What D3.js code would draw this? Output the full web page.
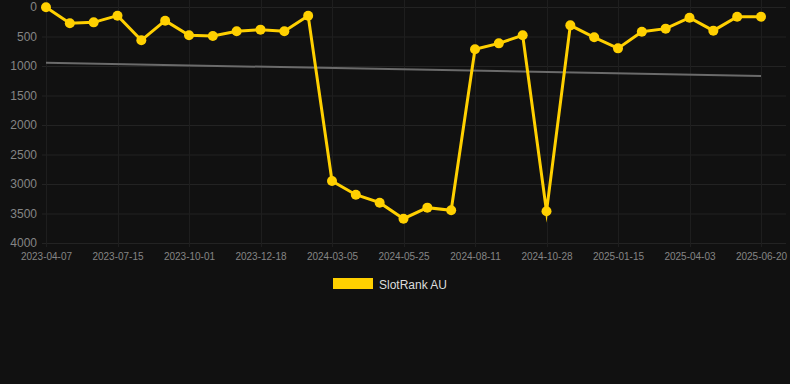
<!DOCTYPE html>
<html><head><meta charset="utf-8">
<script src="https://cdn.jsdelivr.net/npm/d3@7/dist/d3.min.js"></script>
<style>html,body{margin:0;padding:0;background:#111111;}svg{display:block;}</style>
</head><body>
<svg id="c" width="790" height="384"></svg>
<script>
const dates = ["2023-04-07","2023-05-10","2023-06-12","2023-07-15","2023-08-10","2023-09-05",
"2023-10-01","2023-10-27","2023-11-22","2023-12-18","2024-01-13","2024-02-08",
"2024-03-05","2024-04-01","2024-04-28","2024-05-25","2024-06-20","2024-07-16",
"2024-08-11","2024-09-06","2024-10-02","2024-10-28","2024-11-23","2024-12-19",
"2025-01-15","2025-02-10","2025-03-08","2025-04-03","2025-04-29","2025-05-25","2025-06-20"];
const rankAU = [5,276,260,147,565,232,480,492,412,384,412,147,
2949,3181,3317,3588,3401,3446,717,616,480,3463,311,514,
701,418,367,181,401,164,164];
const trend = [945,1170];
const yTicks = [0,500,1000,1500,2000,2500,3000,3500,4000];
const seriesName = "SlotRank AU";

(function(){
const svg = d3.select("#c");
const pl = 46, pr = 761, pt = 7, pb = 243;
const x = d3.scalePoint().domain(dates).range([pl, pr]);
const y = d3.scaleLinear().domain([0,4000]).range([pt, pb]);
const font = "Liberation Sans, Arial, Helvetica, sans-serif";

// grid
const grid = svg.append("g");
grid.selectAll("line.h").data(yTicks).enter().append("line")
  .attr("x1", 42).attr("x2", 786).attr("y1", d=>y(d)+0.5).attr("y2", d=>y(d)+0.5)
  .attr("stroke", "#232323").attr("stroke-width", 1);
const xTickDates = dates.filter((d,i)=>i%3===0);
grid.selectAll("line.v").data(xTickDates).enter().append("line")
  .attr("x1", d=>Math.round(x(d))+0.5).attr("x2", d=>Math.round(x(d))+0.5)
  .attr("y1", 0).attr("y2", 247)
  .attr("stroke", "#1e1e1e").attr("stroke-width", 1);

// y axis labels
const yAxis = d3.axisLeft(y).tickValues(yTicks).tickFormat(d3.format("d")).tickSize(0).tickPadding(0);
const ya = svg.append("g").attr("transform", "translate(37,0)").call(yAxis);
ya.select(".domain").remove();
ya.selectAll("text").attr("fill", "#858585").attr("font-family", font).attr("font-size", 12);

// x axis labels
const xAxis = d3.axisBottom(x).tickValues(xTickDates).tickSize(0).tickPadding(0);
const xa = svg.append("g").attr("transform", "translate(0,253)").call(xAxis);
xa.select(".domain").remove();
xa.selectAll("text").attr("fill", "#858585").attr("font-family", font).attr("font-size", 10);

// trend line
svg.append("line")
  .attr("x1", x(dates[0])).attr("y1", y(trend[0]))
  .attr("x2", x(dates[dates.length-1])).attr("y2", y(trend[1]))
  .attr("stroke", "#6b6b6b").attr("stroke-width", 2);

// series line
const line = d3.line().x((d,i)=>x(dates[i])).y(d=>y(d));
svg.append("path").datum(rankAU).attr("d", line)
  .attr("fill", "none").attr("stroke", "#ffd000").attr("stroke-width", 3)
  .attr("stroke-linejoin", "miter").attr("stroke-miterlimit", 10);
svg.selectAll("circle.p").data(rankAU).enter().append("circle")
  .attr("cx", (d,i)=>x(dates[i])).attr("cy", d=>y(d)).attr("r", 5)
  .attr("fill", "#ffd000");

// legend
svg.append("rect").attr("x", 333).attr("y", 278).attr("width", 40).attr("height", 11).attr("fill", "#ffd000");
svg.append("text").attr("x", 379).attr("y", 289).attr("fill", "#dddddd")
  .attr("font-family", font).attr("font-size", 12).text(seriesName);
})();
</script>
</body></html>
